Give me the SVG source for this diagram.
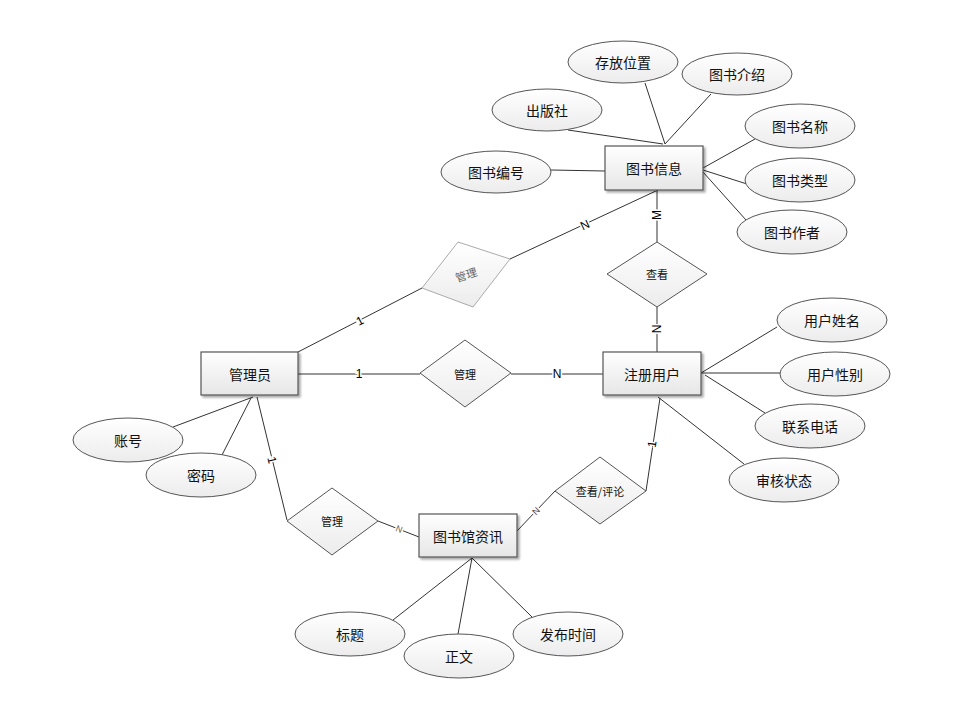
<svg xmlns="http://www.w3.org/2000/svg" width="975" height="707" viewBox="0 0 975 707">
<defs>
<linearGradient id="gr" x1="0" y1="0" x2="0" y2="1"><stop offset="0" stop-color="#ffffff"/><stop offset="1" stop-color="#e6e6e6"/></linearGradient>
<linearGradient id="gl" x1="0" y1="0" x2="0" y2="1"><stop offset="0" stop-color="#ffffff"/><stop offset="1" stop-color="#ececec"/></linearGradient>
<filter id="sh" x="-20%" y="-20%" width="140%" height="150%"><feDropShadow dx="2" dy="2" stdDeviation="1" flood-color="#000" flood-opacity="0.35"/></filter>
</defs>
<style>
.ent{fill:url(#gr);stroke:#555;stroke-width:1.2;filter:url(#sh)}
.att{fill:url(#gl);stroke:#555;stroke-width:1}
.rel{fill:url(#gl);stroke:#555;stroke-width:1}
.t{font-family:"Noto Sans CJK SC","Noto Sans",sans-serif;font-size:14px;fill:#111;text-anchor:middle;dominant-baseline:central}
.ts{font-family:"Noto Sans CJK SC","Noto Sans",sans-serif;font-size:11px;fill:#111;text-anchor:middle;dominant-baseline:central}
.lb{font-family:"Liberation Sans",sans-serif;font-size:12px;fill:#000;text-anchor:middle;dominant-baseline:central;stroke:#fff;stroke-width:3;paint-order:stroke}
#conn line{stroke:#333;stroke-width:1}
</style>
<rect width="975" height="707" fill="#fff"/>
<g id="conn">
<line x1="645" y1="83" x2="665" y2="144"/>
<line x1="711" y1="94" x2="665" y2="144"/>
<line x1="568" y1="130" x2="663" y2="144"/>
<line x1="551" y1="170" x2="605" y2="171"/>
<line x1="703" y1="168" x2="755" y2="139"/>
<line x1="703" y1="170" x2="747" y2="184"/>
<line x1="703" y1="172" x2="746" y2="220"/>
<line x1="658" y1="190" x2="510" y2="259"/>
<line x1="422" y1="288" x2="298" y2="352"/>
<line x1="657" y1="190" x2="657" y2="242"/>
<line x1="657" y1="307" x2="657" y2="352"/>
<line x1="298" y1="374" x2="420" y2="374"/>
<line x1="511" y1="374" x2="603" y2="374"/>
<line x1="701" y1="373" x2="777" y2="327"/>
<line x1="701" y1="373" x2="780" y2="373"/>
<line x1="705" y1="375" x2="765" y2="413"/>
<line x1="658" y1="397" x2="744" y2="464"/>
<line x1="660" y1="398" x2="646" y2="491"/>
<line x1="253" y1="397" x2="173" y2="427"/>
<line x1="251" y1="398" x2="222" y2="455"/>
<line x1="257" y1="397" x2="287" y2="520"/>
<line x1="378" y1="521" x2="419" y2="537"/>
<line x1="517" y1="531" x2="555" y2="491"/>
<line x1="472" y1="558" x2="393" y2="620"/>
<line x1="472" y1="558" x2="458" y2="634"/>
<line x1="472" y1="558" x2="532" y2="617"/>
<text class="lb" x="585" y="225" transform="rotate(-25 585 225)">N</text>
<text class="lb" x="360" y="321" transform="rotate(-27 360 321)">1</text>
<text class="lb" x="657" y="215" transform="rotate(-90 657 215)">M</text>
<text class="lb" x="657" y="329" transform="rotate(-90 657 329)">N</text>
<text class="lb" x="359" y="374">1</text>
<text class="lb" x="557" y="374">N</text>
<text class="lb" x="652" y="444" transform="rotate(-81 652 444)">1</text>
<text class="lb" x="272" y="460" transform="rotate(76 272 460)">1</text>
<text class="lb" x="399" y="529" style="font-size:9px;fill:#666" transform="rotate(21 399 529)">N</text>
<text class="lb" x="536" y="511" style="font-size:9px;fill:#444" transform="rotate(-46 536 511)">N</text>
</g>
<g id="e_book"><rect class="ent" x="605" y="146" width="98" height="44"/><text class="t" x="654" y="168">图书信息</text></g>
<g id="e_user"><rect class="ent" x="603" y="352" width="98" height="43"/><text class="t" x="652" y="374">注册用户</text></g>
<g id="e_admin"><rect class="ent" x="201" y="352" width="97" height="43"/><text class="t" x="250" y="374">管理员</text></g>
<g id="e_news"><rect class="ent" x="419" y="514" width="98" height="43"/><text class="t" x="468" y="536">图书馆资讯</text></g>
<g id="a_loc"><ellipse class="att" cx="623" cy="62" rx="55" ry="21"/><text class="t" x="623" y="62">存放位置</text></g>
<g id="a_intro"><ellipse class="att" cx="737" cy="74" rx="55" ry="21"/><text class="t" x="737" y="74">图书介绍</text></g>
<g id="a_pub"><ellipse class="att" cx="547" cy="110" rx="55" ry="21"/><text class="t" x="547" y="110">出版社</text></g>
<g id="a_no"><ellipse class="att" cx="496" cy="172" rx="55" ry="21"/><text class="t" x="496" y="172">图书编号</text></g>
<g id="a_name"><ellipse class="att" cx="800" cy="126" rx="55" ry="22"/><text class="t" x="800" y="126">图书名称</text></g>
<g id="a_type"><ellipse class="att" cx="800" cy="180" rx="55" ry="22"/><text class="t" x="800" y="180">图书类型</text></g>
<g id="a_author"><ellipse class="att" cx="792" cy="232" rx="55" ry="22"/><text class="t" x="792" y="232">图书作者</text></g>
<g id="a_uname"><ellipse class="att" cx="832" cy="320" rx="55" ry="22"/><text class="t" x="832" y="320">用户姓名</text></g>
<g id="a_usex"><ellipse class="att" cx="835" cy="374" rx="55" ry="22"/><text class="t" x="835" y="374">用户性别</text></g>
<g id="a_tel"><ellipse class="att" cx="810" cy="426" rx="55" ry="22"/><text class="t" x="810" y="426">联系电话</text></g>
<g id="a_stat"><ellipse class="att" cx="784" cy="480" rx="55" ry="22"/><text class="t" x="784" y="480">审核状态</text></g>
<g id="a_acc"><ellipse class="att" cx="128" cy="440" rx="55" ry="22"/><text class="t" x="128" y="440">账号</text></g>
<g id="a_pwd"><ellipse class="att" cx="201" cy="475" rx="55" ry="22"/><text class="t" x="201" y="475">密码</text></g>
<g id="a_title"><ellipse class="att" cx="350" cy="634" rx="55" ry="22"/><text class="t" x="350" y="634">标题</text></g>
<g id="a_body"><ellipse class="att" cx="459" cy="656" rx="55" ry="22"/><text class="t" x="459" y="656">正文</text></g>
<g id="a_time"><ellipse class="att" cx="568" cy="634" rx="55" ry="22"/><text class="t" x="568" y="634">发布时间</text></g>
<g id="r_view"><polygon class="rel" points="657,242 707,274 657,307 607,274"/><text class="ts" x="657" y="274">查看</text></g>
<g id="r_manage_book"><polygon class="rel" style="stroke:#aaa" points="458,242 510,259 473,307 422,288"/><text class="ts" x="466" y="274" style="fill:#666" transform="rotate(-18 466 274)">管理</text></g>
<g id="r_manage_user"><polygon class="rel" points="465,340 511,373 465,407 420,373"/><text class="ts" x="465" y="374">管理</text></g>
<g id="r_manage_news"><polygon class="rel" points="332,488 378,521 332,555 287,521"/><text class="ts" x="332" y="521">管理</text></g>
<g id="r_comment"><polygon class="rel" points="600,457 646,491 600,524 555,491"/><text class="ts" x="600" y="491">查看/评论</text></g>
</svg>
